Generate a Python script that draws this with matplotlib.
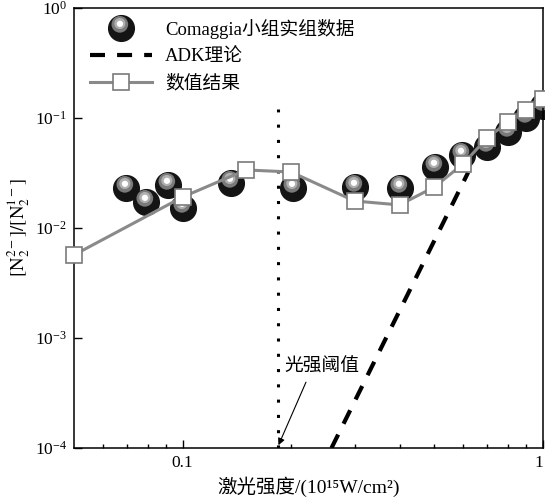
import numpy as np
import matplotlib
matplotlib.use("Agg")
import matplotlib.pyplot as plt
from matplotlib.markers import MarkerStyle
from matplotlib.transforms import Affine2D
from matplotlib.legend_handler import HandlerTuple
from matplotlib.ticker import FixedLocator, FixedFormatter, NullFormatter, NullLocator

plt.rcParams['font.family'] = ['Liberation Serif', 'DejaVu Serif', 'Noto Sans CJK SC']
plt.rcParams['mathtext.fontset'] = 'stix'

# Cornaggia group experimental data
exp_x = [0.0695, 0.079, 0.0909, 0.1006, 0.136, 0.203, 0.301, 0.402, 0.502, 0.597, 0.70, 0.80, 0.90, 1.0]
exp_y = [0.0231, 0.0172, 0.0246, 0.0152, 0.0257, 0.0231, 0.0236, 0.0231, 0.0359, 0.0461, 0.0545, 0.0746, 0.100, 0.128]

# numerical results
num_x = [0.05, 0.1, 0.15, 0.2, 0.3, 0.4, 0.5, 0.6, 0.7, 0.8, 0.9, 1.0]
num_y = [0.00569, 0.0191, 0.0337, 0.0323, 0.0176, 0.0162, 0.0236, 0.0382, 0.0658, 0.092, 0.118, 0.149]

# ADK theory
adk_x = [0.259, 0.62]
adk_y = [1e-4, 0.032]

threshold = 0.1846
thr_top = 0.12

fig = plt.figure(figsize=(5.45, 4.99), dpi=100)
ax = fig.add_axes([0.1358, 0.1022, 0.8605, 0.8818])
ax.set_xscale('log')
ax.set_yscale('log')

# dotted threshold line
ax.plot([threshold, threshold], [1e-4, thr_top], color='black', ls=(0, (1, 4)), lw=2.2, zorder=1)

# ADK dashed line
adk_line, = ax.plot(adk_x, adk_y, color='black', ls=(0, (3.6, 2.9)), lw=3, zorder=1.5)

# shaded balls (dark body, grey shading, white highlight)
b1, = ax.plot(exp_x, exp_y, ls='none', marker='o', ms=18.5, mfc='#141414', mec='#141414',
              zorder=2, clip_on=False)
b2, = ax.plot(exp_x, exp_y, ls='none', marker=MarkerStyle('o', transform=Affine2D().translate(-0.1, 0.25)),
              ms=12, mfc='#7a7a7a', mec='none', zorder=2.1, clip_on=False)
b3, = ax.plot(exp_x, exp_y, ls='none', marker=MarkerStyle('o', transform=Affine2D().translate(-0.15, 0.45)),
              ms=8, mfc='#b0b0b0', mec='none', zorder=2.15, clip_on=False)
b4, = ax.plot(exp_x, exp_y, ls='none', marker=MarkerStyle('o', transform=Affine2D().translate(-0.25, 0.75)),
              ms=4.5, mfc='white', mec='none', zorder=2.2, clip_on=False)

# numerical results
num_line, = ax.plot(num_x, num_y, color='#8a8a8a', lw=2.2, marker='s', ms=12, mfc='white',
                    mec='#7a7a7a', mew=1.2, zorder=3, clip_on=False)

ax.set_xlim(0.05, 1.0)
ax.set_ylim(1e-4, 1)

ax.xaxis.set_major_locator(FixedLocator([0.1, 1.0]))
ax.xaxis.set_major_formatter(FixedFormatter(['0.1', '1']))
ax.xaxis.set_minor_locator(FixedLocator([0.06, 0.07, 0.08, 0.09, 0.2, 0.3, 0.4, 0.5, 0.6, 0.7, 0.8, 0.9]))
ax.xaxis.set_minor_formatter(NullFormatter())
ax.yaxis.set_minor_locator(NullLocator())

ax.tick_params(which='major', direction='in', length=6, width=1, labelsize=12.5, pad=5)
ax.tick_params(which='minor', direction='in', length=3, width=1)
for s in ax.spines.values():
    s.set_linewidth(1.1)
ax.get_xticklabels()[-1].set_horizontalalignment('right')

ax.set_xlabel('激光强度/(10¹⁵W/cm²)', fontsize=14, labelpad=4)
ax.set_ylabel(r'$[\mathrm{N}_2^{2-}]/[\mathrm{N}_2^{1-}]$', fontsize=13.5, labelpad=2)

ax.annotate('光强阈值', xy=(threshold, 1.06e-4), xytext=(0.2443, 5.45e-4),
            ha='center', va='center', fontsize=13.5,
            arrowprops=dict(arrowstyle='-|>', color='black', lw=0.8, mutation_scale=10,
                            relpos=(0.32, 0.0), shrinkA=3, shrinkB=0))

ax.legend([(b1, b2, b3, b4), adk_line, num_line],
          ['Comaggia小组实组数据', 'ADK理论', '数值结果'],
          handler_map={tuple: HandlerTuple(ndivide=1, pad=0)},
          loc='upper left', bbox_to_anchor=(0.034, 0.975), borderpad=0, borderaxespad=0,
          frameon=False, fontsize=13.5, handlelength=3.3, handletextpad=0.7,
          labelspacing=0.5, numpoints=1)

fig.savefig('out.png', dpi=100)
